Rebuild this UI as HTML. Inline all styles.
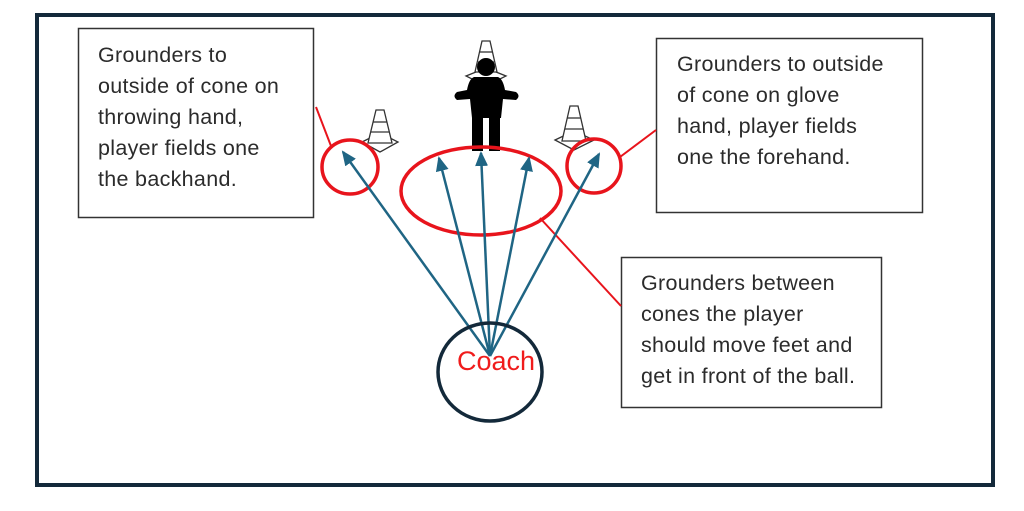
<!DOCTYPE html>
<html><head><meta charset="utf-8"><style>
body{margin:0;background:#fff;}
svg text{font-family:"Liberation Sans",sans-serif;}
</style></head><body>
<svg width="1024" height="506" viewBox="0 0 1024 506" xmlns="http://www.w3.org/2000/svg">
<defs><marker id="a" markerWidth="16" markerHeight="14" refX="13" refY="6.5" orient="auto" markerUnits="userSpaceOnUse"><path d="M0,0 L15,6.5 L0,13 Z" fill="#1f6584"/></marker></defs>
<rect x="37" y="15" width="956" height="470" fill="none" stroke="#13293a" stroke-width="4"/>
<rect x="78.5" y="28.5" width="235" height="189" fill="#fff" stroke="#333" stroke-width="1.5"/>
<rect x="656.5" y="38.5" width="266" height="174" fill="#fff" stroke="#333" stroke-width="1.5"/>
<rect x="621.5" y="257.5" width="260" height="150" fill="#fff" stroke="#333" stroke-width="1.5"/>
<g font-size="21.5" fill="#2b2b2b" letter-spacing="0.3">
<text x="98" y="62">Grounders to</text>
<text x="98" y="93">outside of cone on</text>
<text x="98" y="124">throwing hand,</text>
<text x="98" y="155">player fields one</text>
<text x="98" y="186">the backhand.</text>
<text x="677" y="71">Grounders to outside</text>
<text x="677" y="102">of cone on glove</text>
<text x="677" y="133">hand, player fields</text>
<text x="677" y="164">one the forehand.</text>
<text x="641" y="290">Grounders between</text>
<text x="641" y="321">cones the player</text>
<text x="641" y="352">should move feet and</text>
<text x="641" y="383">get in front of the ball.</text>
</g>
<!-- cones -->
<g fill="#fff" stroke="#333" stroke-width="1.3">
<path d="M362,142 L380,133 L398,142 L380,152 Z"/><path d="M376,110 L384,110 L392,143 L368,143 Z"/>
<line x1="373" y1="122" x2="387" y2="122"/><line x1="371" y1="132" x2="389" y2="132"/>
<path d="M555,140 L574,131 L594,140 L574,150 Z"/><path d="M570,106 L578,106 L586,141 L562,141 Z"/>
<line x1="567" y1="118" x2="581" y2="118"/><line x1="565" y1="129" x2="583" y2="129"/>
<path d="M466,76 L486,68 L506,76 L486,86 Z"/><path d="M482,41 L490,41 L497,72 L475,72 Z"/>
<line x1="480" y1="52" x2="492" y2="52"/><line x1="478" y1="62" x2="494" y2="62"/>
</g>
<!-- person -->
<g fill="#000">
<circle cx="486" cy="67" r="9"/>
<path d="M474,77 L498,77 Q503,79 505,90 L516,92 Q521,96 516,100 L503,99 L501,118 L472,118 L470,99 L457,100 Q452,96 457,92 L467,90 Q469,79 474,77 Z"/>
<rect x="472" y="116" width="11" height="35"/><rect x="489" y="116" width="11" height="35"/>
</g>
<!-- red -->
<g fill="none" stroke="#e8141c" stroke-width="3.5">
<ellipse cx="350" cy="167" rx="28" ry="27"/>
<ellipse cx="594" cy="166" rx="27" ry="27"/>
<ellipse cx="481" cy="191" rx="80" ry="44"/>
</g>
<g stroke="#e8141c" stroke-width="2">
<line x1="316" y1="107" x2="331" y2="146"/>
<line x1="620" y1="157" x2="656" y2="130"/>
<line x1="540" y1="218" x2="621" y2="306"/>
</g>
<!-- arrows -->
<g stroke="#1f6584" stroke-width="2.5" marker-end="url(#a)">
<line x1="490" y1="356" x2="343" y2="152"/>
<line x1="490" y1="356" x2="439" y2="158"/>
<line x1="490" y1="356" x2="481" y2="153"/>
<line x1="490" y1="356" x2="529" y2="158"/>
<line x1="490" y1="356" x2="599" y2="154"/>
</g>
<ellipse cx="490" cy="372" rx="52" ry="49" fill="none" stroke="#13293a" stroke-width="3.5"/>
<text x="496" y="370" font-size="27" fill="#f01c1c" text-anchor="middle">Coach</text>
</svg>
</body></html>
